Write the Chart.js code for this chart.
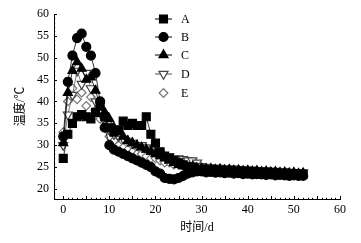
<!DOCTYPE html>
<html><head><meta charset="utf-8">
<script src="https://cdn.jsdelivr.net/npm/chart.js@4/dist/chart.umd.min.js"></script>
<style>html,body{margin:0;padding:0;background:#fff}#wrap{width:361px;height:243px;position:relative}</style>
</head><body><div id="wrap"><canvas id="c"></canvas></div>
<script>
const days = Array.from({length:53},(_, i)=>i);
const seriesA = [27,32.5,35,36.5,37,36.5,36,37.5,39,36.5,
  34,33,33.5,35.5,34.5,35,34.5,34.5,36.5,32.5,
  30.5,28.5,27.5,27,26.5,26,25.5,25,25,24.5,
  24.5,24.2,24.4,24.1,24.3,24,24.2,23.9,24.1,23.9,
  24,23.8,23.9,23.7,23.8,23.6,23.7,23.5,23.6,23.4,
  23.5,23.3,23.4];
const seriesB = [32,44.5,50.5,54.5,55.5,52.5,50.5,46.5,40,34,
  30,29,28.5,28,27.5,27,26.5,26,25.5,25,
  24,23.5,22.5,22.3,22.2,22.5,23,23.5,23.8,24,
  24,23.8,23.9,23.7,23.8,23.6,23.7,23.5,23.6,23.4,
  23.5,23.3,23.4,23.3,23.2,23.3,23.1,23.2,23.1,23,
  23.1,23,23];
const seriesC = [30.5,42,47,49,47.5,45,45.5,42.5,39,37.5,
  36,34,33,32,31,30.5,30,29.5,29,28.5,
  28,27.5,27,26.5,26,25.5,25.3,25,25,24.8,
  24.7,24.5,24.6,24.4,24.5,24.3,24.4,24.2,24.3,24.1,
  24.2,24,24.1,23.9,24,23.8,23.9,23.7,23.8,23.6,
  23.7,23.5,23.6];
const seriesD = [30,37,41.5,47,44,46.5,43,40,37.5,35.5,
  33.5,32.5,32,31.5,31,30.5,30,30,29.5,29,
  28.5,28,27.5,27.5,27,27,26.8,26.5,26.5,26,
  25.2,25,24.9,24.8,24.8,24.7,24.6,24.6,24.5,24.5,
  24.4,24.4,24.3,24.3,24.2,24.1,24.1,24,24,23.9,
  23.8,23.8,23.7];
const seriesE = [33,40,43,40.5,42,39,41,38,36,34,
  32,31,30,29.5,29,28.5,28,28,27.5,27,
  27,26.5,26,26,25.5,25.5,25.2,25,25,24.8,
  24.9,24.6,24.7,24.5,24.6,24.4,24.5,24.3,24.4,24.2,
  24.3,24.1,24.2,24,24.1,23.9,24,23.8,23.9,23.7,
  23.8,23.6,23.7];
const seriesNames = ['A','B','C','D','E'];
const xTickValues = [0,10,20,30,40,50,60];
const yTickValues = [20,25,30,35,40,45,50,55,60];

const FONT = '"Liberation Serif","Noto Sans CJK SC",serif';
const styles = [
  {pointStyle:'rect', radius:5.6, bg:'#000', border:'#000', line:'#000', show:true, rot:0},
  {pointStyle:'circle', radius:4.5, bg:'#000', border:'#000', line:'#000', show:true, rot:0},
  {pointStyle:'triangle', radius:5.2, bg:'#000', border:'#000', line:'#000', show:true, rot:0},
  {pointStyle:'triangle', radius:5.2, bg:'#fff', border:'#444', line:'#555', show:true, rot:180},
  {pointStyle:'rectRot', radius:4.3, bg:'#fff', border:'#777', line:'#777', show:false, rot:0}
];
const allSeries = [seriesA, seriesB, seriesC, seriesD, seriesE];
const datasets = allSeries.map((s, i) => ({
  label: seriesNames[i],
  data: s.map((v, j) => ({x: days[j], y: v})),
  showLine: styles[i].show,
  borderColor: styles[i].line,
  borderWidth: 0.8,
  pointStyle: styles[i].pointStyle,
  pointRadius: styles[i].radius,
  pointRotation: styles[i].rot,
  pointBackgroundColor: styles[i].bg,
  pointBorderColor: styles[i].border,
  pointBorderWidth: 1.2,
  tension: 0
}));

function drawMarker(ctx, st, x, y) {
  ctx.save();
  ctx.fillStyle = st.bg; ctx.strokeStyle = st.border; ctx.lineWidth = 1.2;
  ctx.beginPath();
  const r = st.radius;
  if (st.pointStyle === 'rect') {
    const s = r * Math.SQRT1_2; ctx.rect(x - s, y - s, 2*s, 2*s);
  } else if (st.pointStyle === 'circle') {
    ctx.arc(x, y, r, 0, Math.PI*2);
  } else if (st.pointStyle === 'triangle') {
    const dir = st.rot === 180 ? -1 : 1;
    const h = r * 0.5;
    ctx.moveTo(x, y - dir*r);
    ctx.lineTo(x - r*0.866, y + dir*h);
    ctx.lineTo(x + r*0.866, y + dir*h);
    ctx.closePath();
  } else {
    ctx.moveTo(x - r, y); ctx.lineTo(x, y - r); ctx.lineTo(x + r, y); ctx.lineTo(x, y + r); ctx.closePath();
  }
  ctx.fill(); ctx.stroke();
  ctx.restore();
}

const legendPlugin = {
  id: 'customLegend',
  afterDraw(chart) {
    const ctx = chart.ctx;
    const ys = [19, 37, 55, 74, 93];
    seriesNames.forEach((n, i) => {
      const st = styles[i]; const y = ys[i];
      if (st.show) {
        ctx.save(); ctx.strokeStyle = st.line; ctx.lineWidth = 1;
        ctx.beginPath(); ctx.moveTo(155, y); ctx.lineTo(172, y); ctx.stroke(); ctx.restore();
      }
      drawMarker(ctx, st, 163.5, y);
      ctx.save(); ctx.fillStyle = '#000'; ctx.font = '12px ' + FONT;
      ctx.textBaseline = 'middle'; ctx.textAlign = 'left';
      ctx.fillText(n, 181, y + 0.5); ctx.restore();
    });
  }
};

const tickPlugin = {
  id: 'inTicks',
  afterDraw(chart) {
    const ctx = chart.ctx; const a = chart.chartArea;
    const xs = chart.scales.x, ys = chart.scales.y;
    ctx.save(); ctx.strokeStyle = '#000'; ctx.lineWidth = 1;
    ctx.beginPath();
    for (let v = 0; v <= 60; v += 1) {
      const px = Math.round(xs.getPixelForValue(v)) + 0.5;
      const len = v % 5 === 0 ? 3 : 1.2;
      ctx.moveTo(px, a.bottom); ctx.lineTo(px, a.bottom - len);
    }
    for (let v = 18; v <= 60; v += 1) {
      const py = Math.round(ys.getPixelForValue(v)) + 0.5;
      const len = v % 5 === 0 ? 3 : 1.2;
      ctx.moveTo(a.left, py); ctx.lineTo(a.left + len, py);
    }
    ctx.stroke(); ctx.restore();
  }
};

new Chart(document.getElementById('c'), {
  type: 'scatter',
  data: { datasets },
  options: {
    responsive: true, maintainAspectRatio: false, animation: false,
    layout: { padding: { top: 14, right: 21, left: 0, bottom: 0 } },
    plugins: { legend: { display: false }, tooltip: { enabled: false } },
    scales: {
      x: {
        type: 'linear', min: -2, max: 60,
        grid: { display: false, drawTicks: false },
        border: { display: true, color: '#000', width: 1 },
        afterBuildTicks: s => { s.ticks = xTickValues.map(v => ({value: v})); },
        afterFit: s => { s.height = 44; },
        ticks: { padding: 4, color: '#000', font: { family: FONT, size: 12 }, maxRotation: 0 },
        title: { display: true, text: '时间/d', color: '#000', font: { family: FONT, size: 12 }, padding: { top: 0, bottom: 8 } }
      },
      y: {
        type: 'linear', min: 17.7, max: 60,
        grid: { display: false, drawTicks: false },
        border: { display: true, color: '#000', width: 1 },
        afterBuildTicks: s => { s.ticks = yTickValues.map(v => ({value: v})); },
        afterFit: s => { s.width = 54; },
        ticks: { padding: 5, color: '#000', font: { family: FONT, size: 12 } },
        title: { display: true, text: '温度/℃', color: '#000', font: { family: FONT, size: 12 }, padding: { top: 14, bottom: 0 } }
      }
    }
  },
  plugins: [tickPlugin, legendPlugin]
});
</script></body></html>
